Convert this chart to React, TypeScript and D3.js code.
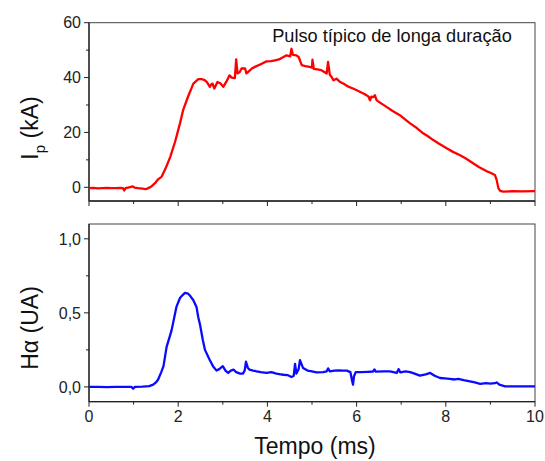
import React from "react";
import * as d3 from "d3";

// ---- Data ----
const ipTime = [0, 0.1, 0.2, 0.3, 0.4, 0.5, 0.6, 0.7, 0.76, 0.79, 0.82, 0.9, 0.98, 1.02, 1.1, 1.2, 1.27, 1.33, 1.4, 1.48, 1.55, 1.63, 1.72, 1.82, 1.93, 2.04, 2.11, 2.22, 2.34, 2.45, 2.52, 2.58, 2.64, 2.71, 2.74, 2.77, 2.81, 2.84, 2.88, 2.95, 3.01, 3.08, 3.15, 3.2, 3.27, 3.3, 3.33, 3.38, 3.42, 3.5, 3.53, 3.6, 3.65, 3.72, 3.8, 3.87, 3.98, 4.08, 4.17, 4.26, 4.36, 4.43, 4.51, 4.54, 4.57, 4.65, 4.7, 4.73, 4.77, 4.85, 4.95, 5.0, 5.01, 5.04, 5.12, 5.21, 5.33, 5.36, 5.4, 5.44, 5.48, 5.55, 5.62, 5.7, 5.8, 5.92, 6.05, 6.15, 6.22, 6.27, 6.3, 6.33, 6.38, 6.41, 6.45, 6.55, 6.67, 6.8, 6.97, 7.1, 7.2, 7.35, 7.5, 7.6, 7.72, 7.85, 8.02, 8.15, 8.32, 8.45, 8.62, 8.75, 8.91, 9.0, 9.1, 9.14, 9.18, 9.22, 9.29, 9.5, 9.7, 10];
const ipValue = [-0.3, -0.2, -0.4, -0.3, -0.2, -0.3, -0.3, -0.2, -0.3, -1.2, -0.3, 0, 0.3, -0.1, -0.3, -0.5, -0.7, -0.3, 0.3, 1.5, 2.9, 3.9, 7, 11, 16.6, 23.3, 28.1, 33, 37.8, 39.4, 39.4, 39.2, 38.4, 36.6, 37.5, 37.8, 36, 37, 38.4, 37.8, 36.6, 38.5, 40.8, 40, 39.8, 46.6, 41.5, 42, 43.3, 43.3, 41.5, 42.5, 43.3, 43.9, 44.5, 45, 45.9, 46, 46.3, 46.6, 47.5, 48.1, 47.7, 50.5, 48.3, 48.1, 47.5, 46.3, 44.5, 44.2, 43.9, 43.6, 46.5, 43.2, 43.0, 42.7, 41.5, 45.7, 41, 40.2, 39, 39.6, 38.5, 37.8, 36.8, 36, 35, 34.2, 33.6, 33, 31.7, 33, 32.9, 33.6, 31.7, 30.6, 29.3, 27.9, 26.3, 24.6, 23.3, 21.6, 19.6, 18.6, 17.2, 15.9, 14.2, 13, 11.7, 10.5, 8.7, 7.3, 5.9, 5.3, 4.5, 2.7, -0.4, -1.3, -1.6, -1.4, -1.5, -1.4];

const haTime = [0, 0.2, 0.4, 0.6, 0.8, 0.95, 0.99, 1.03, 1.2, 1.35, 1.44, 1.5, 1.55, 1.62, 1.67, 1.74, 1.85, 1.96, 2.04, 2.1, 2.15, 2.22, 2.28, 2.34, 2.41, 2.45, 2.49, 2.55, 2.6, 2.71, 2.78, 2.86, 2.92, 3.0, 3.06, 3.12, 3.18, 3.24, 3.3, 3.39, 3.45, 3.49, 3.52, 3.56, 3.6, 3.68, 3.76, 3.85, 3.98, 4.09, 4.2, 4.3, 4.36, 4.45, 4.54, 4.59, 4.62, 4.65, 4.7, 4.73, 4.77, 4.8, 4.9, 5.0, 5.1, 5.25, 5.33, 5.36, 5.4, 5.5, 5.6, 5.7, 5.78, 5.86, 5.9, 5.92, 5.94, 5.98, 6.1, 6.25, 6.37, 6.4, 6.43, 6.6, 6.75, 6.9, 6.94, 6.98, 7.1, 7.2, 7.3, 7.42, 7.55, 7.65, 7.75, 7.87, 7.98, 8.09, 8.2, 8.28, 8.4, 8.54, 8.65, 8.77, 8.9, 9.0, 9.1, 9.14, 9.2, 9.33, 9.5, 9.7, 10];
const haValue = [0.0, 0.0, -0.002, 0.0, 0.0, 0.0, -0.012, 0.0, 0.002, 0.005, 0.015, 0.03, 0.05, 0.1, 0.14, 0.27, 0.38, 0.54, 0.6, 0.62, 0.635, 0.63, 0.61, 0.585, 0.54, 0.47, 0.42, 0.32, 0.25, 0.18, 0.14, 0.11, 0.12, 0.14, 0.11, 0.094, 0.11, 0.116, 0.1, 0.09, 0.09, 0.11, 0.17, 0.13, 0.116, 0.11, 0.105, 0.1, 0.094, 0.1, 0.09, 0.085, 0.082, 0.08, 0.067, 0.075, 0.156, 0.09, 0.12, 0.18, 0.15, 0.127, 0.11, 0.105, 0.098, 0.1, 0.105, 0.125, 0.105, 0.11, 0.112, 0.11, 0.11, 0.1, 0.04, 0.015, 0.07, 0.1, 0.1, 0.102, 0.104, 0.118, 0.103, 0.105, 0.105, 0.094, 0.12, 0.098, 0.105, 0.1, 0.09, 0.076, 0.085, 0.094, 0.075, 0.06, 0.058, 0.054, 0.05, 0.054, 0.045, 0.038, 0.03, 0.02, 0.025, 0.022, 0.025, 0.03, 0.015, 0.004, 0.004, 0.003, 0.004];

const xTicks = [0, 1, 2, 3, 4, 5, 6, 7, 8, 9, 10];
const xLabels = ["0", "2", "4", "6", "8", "10"];
const ipTicks = [0, 10, 20, 30, 40, 50, 60];
const ipLabels = ["0", "20", "40", "60"];
const haTicks = [0, 0.25, 0.5, 0.75, 1.0];
const haLabels = ["0,0", "0,5", "1,0"];

const FONT = "'Liberation Sans', Arial, Helvetica, sans-serif";
const AXIS = "#222";

export default function App() {
  const W = 545, H = 461;
  const x = d3.scaleLinear().domain([0, 10]).range([89, 535]);
  const yIp = d3.scaleLinear().domain([-5, 60]).range([201, 22.7]);
  const yHa = d3.scaleLinear().domain([-0.1, 1.1]).range([401.7, 224]);

  const ipPts: [number, number][] = ipTime.map((t, i) => [t, ipValue[i]]);
  const haPts: [number, number][] = haTime.map((t, i) => [t, haValue[i]]);
  const ipLine = d3.line<[number, number]>().x(d => x(d[0])).y(d => yIp(d[1]))(ipPts) || "";
  const haLine = d3.line<[number, number]>().x(d => x(d[0])).y(d => yHa(d[1]))(haPts) || "";

  const panel = (y: d3.ScaleLinear<number, number>, yTicks: number[], yLabelVals: number[], yLabels: string[], showX: boolean, key: string) => {
    const [y0, y1] = y.range();
    const [x0, x1] = x.range();
    return (
      <g key={key}>
        <rect x={x0} y={y1} width={x1 - x0} height={y0 - y1} fill="none" stroke="#444" strokeWidth={1} />
        <line x1={x0} x2={x0} y1={y1} y2={y0} stroke={AXIS} strokeWidth={1.3} />
        <line x1={x0} x2={x1} y1={y0} y2={y0} stroke={AXIS} strokeWidth={1.3} />
        {xTicks.map(t => (
          <line key={"xt" + t} x1={x(t)} x2={x(t)} y1={y0} y2={y0 + (t % 2 === 0 ? 5 : 3)} stroke={AXIS} strokeWidth={1} />
        ))}
        {yTicks.map((t, i) => (
          <line key={"yt" + t} x1={x0} x2={x0 - (i % 2 === 0 ? 5 : 3)} y1={y(t)} y2={y(t)} stroke={AXIS} strokeWidth={1} />
        ))}
        {yLabelVals.map((v, i) => (
          <text key={"yl" + i} x={x0 - 8} y={y(v)} dy="0.36em" textAnchor="end" fontSize={16} fontFamily={FONT} fill={AXIS}>{yLabels[i]}</text>
        ))}
        {showX && xLabels.map((l, i) => (
          <text key={"xl" + i} x={x(+l)} y={y0 + 20} textAnchor="middle" fontSize={16} fontFamily={FONT} fill={AXIS}>{l}</text>
        ))}
      </g>
    );
  };

  return (
    <svg width={W} height={H} style={{ position: "absolute", left: 0, top: 0, background: "#fff" }}>
      <rect width={W} height={H} fill="#fff" />
      {panel(yIp, ipTicks, [0, 20, 40, 60], ipLabels, false, "top")}
      {panel(yHa, haTicks, [0, 0.5, 1.0], haLabels, true, "bot")}
      <path d={ipLine} fill="none" stroke="#ff0000" strokeWidth={2.3} strokeLinejoin="round" />
      <path d={haLine} fill="none" stroke="#0a0aff" strokeWidth={2.3} strokeLinejoin="round" />
      <text x={392} y={42} textAnchor="middle" fontSize={18.2} fontFamily={FONT} fill="#111">Pulso típico de longa duração</text>
      <text transform="translate(38,128) rotate(-90)" textAnchor="middle" fontSize={23} fontFamily={FONT} fill="#111">
        <tspan>I</tspan><tspan fontSize={15} dy={7}>p</tspan><tspan dy={-7}> (kA)</tspan>
      </text>
      <text transform="translate(38,328) rotate(-90)" textAnchor="middle" fontSize={23} fontFamily={FONT} fill="#111">Hα (UA)</text>
      <text x={315} y={454} textAnchor="middle" fontSize={23} fontFamily={FONT} fill="#111">Tempo (ms)</text>
    </svg>
  );
}
